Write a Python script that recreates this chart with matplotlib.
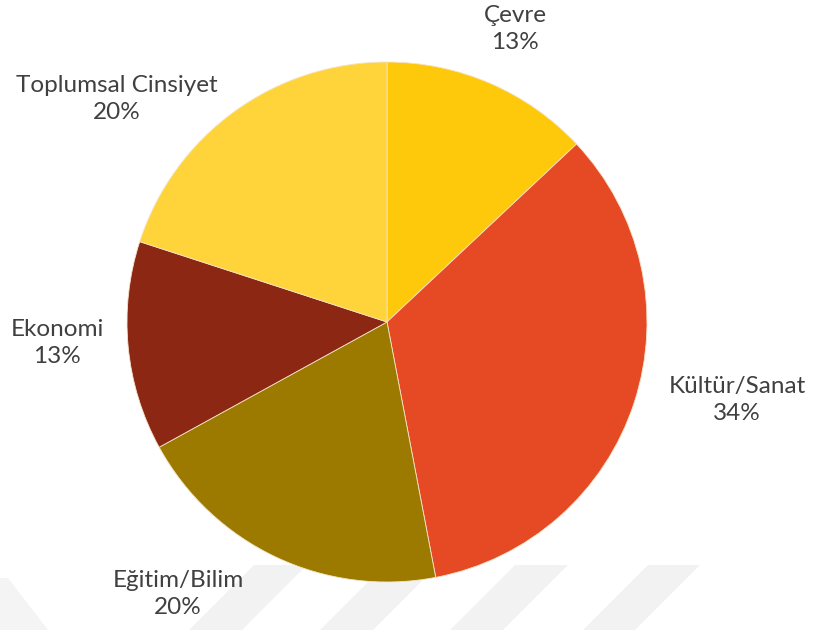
import matplotlib
matplotlib.use("Agg")
import matplotlib.pyplot as plt
from matplotlib.patches import Polygon

# Share of topics
categories = ["Çevre", "Kültür/Sanat", "Eğitim/Bilim", "Ekonomi", "Toplumsal Cinsiyet"]
shares = [13, 34, 20, 13, 20]
colors = ["#FFC90B", "#E64A24", "#9C7A00", "#8B2712", "#FFD43A"]

# label anchor points (data units, pie radius = 1)
label_xy = [(0.492, 1.127), (1.346, -0.300), (-0.804, -1.046),
            (-1.269, -0.081), (-1.038, 0.858)]

W, H = 830, 630
fig = plt.figure(figsize=(W / 100, H / 100), dpi=100)
fig.patch.set_facecolor("white")

# faint diagonal stripes along the bottom edge
def px(x, y):
    return (x / W, 1 - y / H)

stripe_tops = [(254, 307), (385, 438), (515, 568), (648, 700)]
for x0, x1 in stripe_tops:
    poly = [px(x0, 565), px(x1, 565), px(x1 - 70, 635), px(x0 - 70, 635)]
    fig.patches.append(Polygon(poly, closed=True, transform=fig.transFigure,
                               facecolor="#F2F2F2", edgecolor="none", zorder=0))
fig.patches.append(Polygon([px(0, 578), px(8, 578), px(52, 635), px(0, 635)],
                           closed=True, transform=fig.transFigure,
                           facecolor="#F4F4F4", edgecolor="none", zorder=0))

cx, cy, r = 387, 322, 260
ax = fig.add_axes([(cx - r) / W, (H - cy - r) / H, 2 * r / W, 2 * r / H])
ax.set_zorder(2)
ax.set_facecolor("none")
ax.pie(shares, colors=colors, startangle=90, counterclock=False, radius=1,
       wedgeprops=dict(edgecolor="#F4E3C8", linewidth=0.6))
ax.set_xlim(-1, 1)
ax.set_ylim(-1, 1)
ax.set_aspect("equal")
ax.axis("off")

for name, val, (lx, ly) in zip(categories, shares, label_xy):
    ax.text(lx, ly, f"{name}\n{val}%", ha="center", va="center",
            fontsize=17.5, color="#404040", family="Lato",
            linespacing=1.36, clip_on=False)

fig.savefig("out.png", dpi=100, facecolor="white")
